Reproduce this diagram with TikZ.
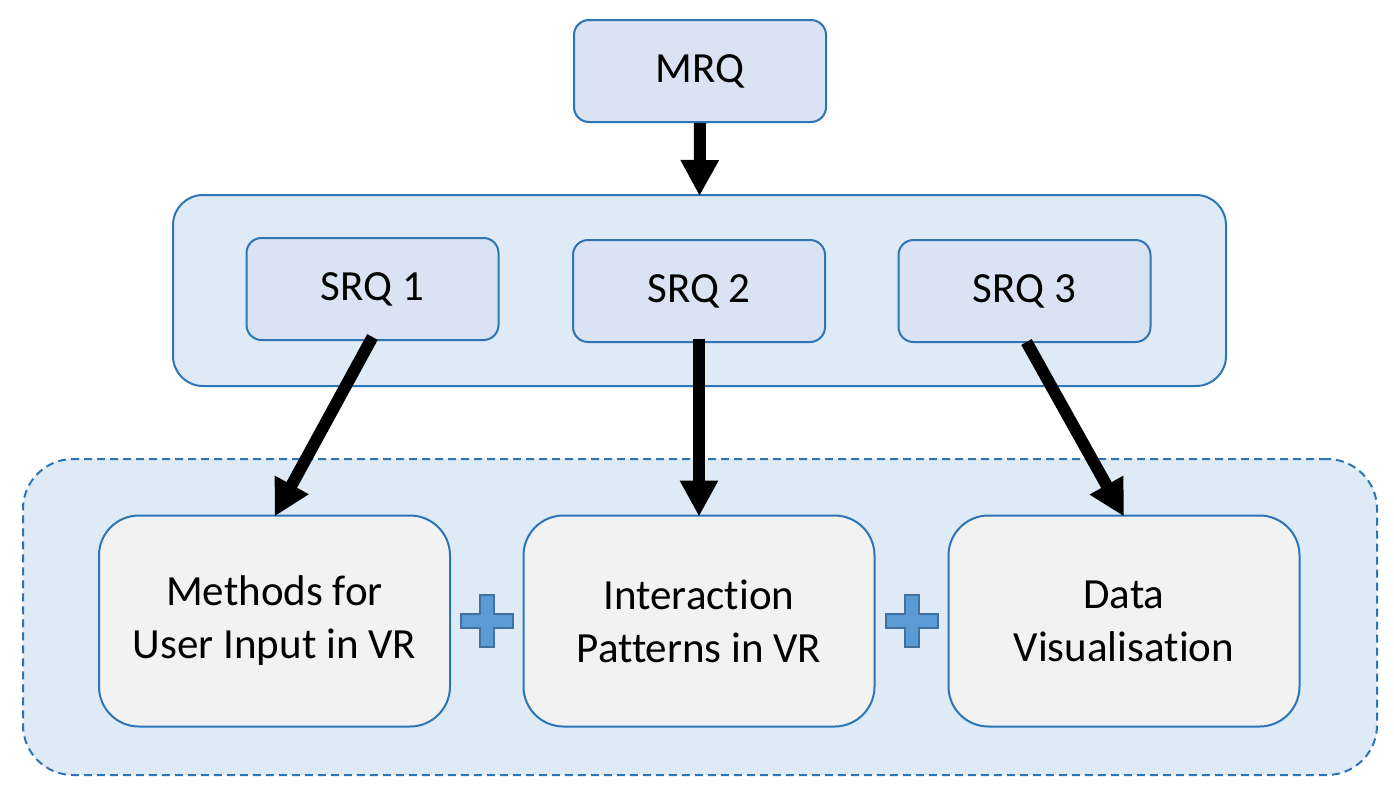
\documentclass[tikz,border=0pt]{standalone}
\usepackage{fontspec}
\setmainfont{Carlito}[Ligatures=NoCommon]
\usetikzlibrary{arrows.meta,calc}
\definecolor{bordc}{RGB}{46,117,182}
\definecolor{smallfill}{RGB}{218,227,243}
\definecolor{groupfill}{RGB}{222,235,247}
\definecolor{boxfill}{RGB}{242,242,242}
\definecolor{plusfill}{RGB}{91,155,213}
\definecolor{plusdraw}{RGB}{65,113,156}
\tikzset{
  qbox/.style={draw=bordc, line width=2pt, fill=smallfill, rounded corners=15pt, inner sep=0pt,
    minimum width=252pt, minimum height=102pt, font=\fontsize{43pt}{54pt}\selectfont},
  groupbox/.style={draw=bordc, line width=2pt, fill=groupfill, rounded corners=30pt, inner sep=0pt},
  dashbox/.style={draw=bordc, line width=2pt, fill=groupfill, rounded corners=50pt, inner sep=0pt,
    dash pattern=on 8pt off 5pt},
  topicbox/.style={draw=bordc, line width=2pt, fill=boxfill, rounded corners=40pt, inner sep=0pt,
    minimum width=351pt, minimum height=211pt, align=center,
    font=\fontsize{43pt}{53pt}\selectfont},
  bigarrow/.style={line width=12pt, -{Triangle[length=36pt,width=36pt]}, black},
  plussign/.style={fill=plusfill, draw=plusdraw, line width=2pt}
}
\begin{document}
\begin{tikzpicture}[x=1pt,y=-1pt]
\useasboundingbox (0,0) rectangle (1394,796);
\node[groupbox, minimum width=1053pt, minimum height=191pt] (grp) at (699.5,290.5) {};
\node[dashbox, minimum width=1354pt, minimum height=316pt] (dgrp) at (700,617) {};
\node[qbox] (mrq) at (700,71) {MRQ};
\node[qbox] (s1) at (372.5,289) {SRQ 1};
\node[qbox] (s2) at (699,291) {SRQ 2};
\node[qbox] (s3) at (1024.5,291) {SRQ 3};
\node[topicbox] (m1) at (274.5,621) {Methods for\\User Input in VR};
\node[topicbox] (m2) at (699,621) {Interaction\\Patterns in VR};
\node[topicbox] (m3) at (1124,621) {Data\\Visualisation};
\draw[bigarrow] (mrq.south) -- ([yshift=-2pt]grp.north);
\draw[bigarrow] ([yshift=4pt]s1.south) -- ([yshift=-2pt]m1.north);
\draw[bigarrow] ([yshift=4pt]s2.south) -- ([yshift=-2pt]m2.north);
\draw[bigarrow] ([xshift=2pt,yshift=1pt]s3.south) -- ([yshift=-2pt]m3.north);
\coordinate (p1) at ($(m1.east)!0.5!(m2.west)$);
\coordinate (p2) at ($(m2.east)!0.5!(m3.west)$);
\foreach \p in {p1,p2}{
  \draw[plussign] ($(\p)+(-7,-26)$) -- ++(14,0) -- ++(0,19) -- ++(19,0) -- ++(0,14) -- ++(-19,0)
    -- ++(0,19) -- ++(-14,0) -- ++(0,-19) -- ++(-19,0) -- ++(0,-14) -- ++(19,0) -- cycle;
}
\end{tikzpicture}
\end{document}
